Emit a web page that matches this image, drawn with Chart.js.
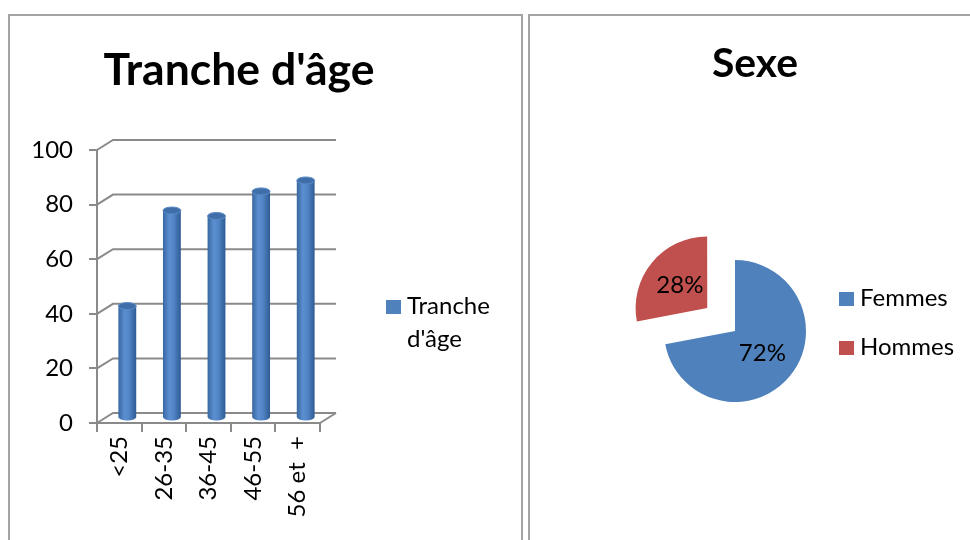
<!DOCTYPE html>
<html lang="fr">
<head>
<meta charset="utf-8">
<title>Tranche d'âge et Sexe</title>
<script src="https://cdn.jsdelivr.net/npm/chart.js@4.4.1/dist/chart.umd.min.js"></script>
<style>
  html, body { margin: 0; padding: 0; background: #fff; }
  body { width: 970px; height: 540px; position: relative; overflow: hidden; }
  .cadre { position: absolute; border: 2px solid #a3a3a3; box-sizing: border-box; }
  #cadre_age { left: 8px; top: 14px; width: 515px; height: 600px; }
  #cadre_sexe { left: 528px; top: 14px; width: 500px; height: 600px; }
  .zone { position: absolute; top: 0; height: 540px; }
  #zone_age { left: 0; width: 525px; }
  #zone_sexe { left: 525px; width: 445px; }
</style>
</head>
<body>
<div class="cadre" id="cadre_age"></div>
<div class="cadre" id="cadre_sexe"></div>
<div class="zone" id="zone_age"><canvas id="tranche_age"></canvas></div>
<div class="zone" id="zone_sexe"><canvas id="sexe"></canvas></div>
<script>
// données
const tranches = ["<25", "26-35", "36-45", "46-55", "56 et  +"];
const effectifs = [41, 76, 74, 83, 87];
const graduations_age = { min: 0, max: 100, pas: 20 };
const sexes = ["Femmes", "Hommes"];
const parts_sexe = [72, 28];
const couleurs_sexe = ["#4f81bd", "#c0504d"];

const GRIS = "#8a8a8a";
const POLICE = "Lato";
const DX = 16, DY = -10; // profondeur du graphique 3D
const ECART_HOMMES = 144;
const FACTEUR_ECART = 1 / 4; // chart.js déplace l'arc de offset/4

// dégradé pour donner l'effet cylindre
function degradeCylindre(context) {
  const chart = context.chart;
  const echelle = chart.scales.x;
  if (!echelle || !chart.chartArea) return "#4f81bd";
  const cx = echelle.getPixelForValue(context.dataIndex);
  const demi = (echelle.width / tranches.length) * 0.4 / 2;
  const g = chart.ctx.createLinearGradient(cx - demi, 0, cx + demi, 0);
  g.addColorStop(0, "#3866a0");
  g.addColorStop(0.35, "#5b8fd0");
  g.addColorStop(0.6, "#5185c6");
  g.addColorStop(1, "#2e5b93");
  return g;
}

const plugin_titre = {
  id: "titreDessine",
  afterDraw: (chart, args, opts) => {
    const ctx = chart.ctx;
    ctx.save();
    ctx.font = "bold 100px " + POLICE;
    const taille = (100 * opts.largeur) / ctx.measureText(opts.texte).width;
    ctx.font = "bold " + taille.toFixed(1) + "px " + POLICE;
    ctx.fillStyle = "#000";
    ctx.textAlign = "center";
    ctx.textBaseline = "alphabetic";
    ctx.fillText(opts.texte, opts.x, opts.y);
    ctx.restore();
  },
};

const plugin_legende = {
  id: "legendeDessinee",
  afterDraw: (chart, args, opts) => {
    const ctx = chart.ctx;
    let items;
    if (chart.config.type === "pie") {
      items = chart.data.labels.map((l, i) => ({
        lignes: [l],
        couleur: chart.data.datasets[0].backgroundColor[i],
      }));
    } else {
      items = chart.data.datasets.map((d) => ({
        lignes: d.label.split(" "),
        couleur: "#4f81bd",
      }));
    }
    ctx.save();
    ctx.font = "24px " + POLICE;
    ctx.textAlign = "left";
    ctx.textBaseline = "alphabetic";
    items.forEach((item, i) => {
      const base = opts.y + i * opts.pas;
      ctx.fillStyle = item.couleur;
      ctx.fillRect(opts.x, base - 14, 15, 14);
      ctx.fillStyle = "#000";
      item.lignes.forEach((ligne, j) => {
        ctx.fillText(ligne, opts.x + 21, base + j * opts.interligne);
      });
    });
    ctx.restore();
  },
};

// murs du fond, décalage des barres et chapeaux des cylindres
const plugin_profondeur = {
  id: "profondeur",
  beforeDraw: (chart) => {
    const { ctx, chartArea } = chart;
    const y = chart.scales.y;
    ctx.save();
    ctx.strokeStyle = GRIS;
    ctx.lineWidth = 2;
    y.ticks.forEach((t) => {
      const py = y.getPixelForValue(t.value);
      ctx.beginPath();
      ctx.moveTo(chartArea.left, py);
      ctx.lineTo(chartArea.left + DX, py + DY);
      ctx.lineTo(chartArea.right + DX, py + DY);
      ctx.stroke();
    });
    const p0 = y.getPixelForValue(0);
    ctx.beginPath();
    ctx.moveTo(chartArea.right, p0);
    ctx.lineTo(chartArea.right + DX, p0 + DY);
    ctx.stroke();
    ctx.restore();
  },
  beforeDatasetsDraw: (chart) => {
    chart.ctx.save();
    chart.ctx.translate(DX / 2, DY / 2);
  },
  afterDatasetsDraw: (chart) => {
    const ctx = chart.ctx;
    chart.getDatasetMeta(0).data.forEach((barre) => {
      const { x, y, base, width } = barre.getProps(["x", "y", "base", "width"], true);
      const rx = width / 2;
      const ry = 3.5;
      ctx.fillStyle = barre.options.backgroundColor;
      ctx.beginPath();
      ctx.ellipse(x, base, rx, ry, 0, 0, Math.PI);
      ctx.fill();
      ctx.fillStyle = "#3f6ea8";
      ctx.beginPath();
      ctx.ellipse(x, y, rx, ry, 0, 0, Math.PI * 2);
      ctx.fill();
      ctx.strokeStyle = "#5a8bc9";
      ctx.lineWidth = 1;
      ctx.stroke();
    });
    ctx.restore();
  },
};

const plugin_pourcentages = {
  id: "pourcentages",
  afterDatasetsDraw: (chart) => {
    const ctx = chart.ctx;
    const valeurs = chart.data.datasets[0].data;
    const total = valeurs.reduce((a, b) => a + b, 0);
    ctx.save();
    ctx.font = "24px " + POLICE;
    ctx.fillStyle = "#000";
    ctx.textAlign = "center";
    ctx.textBaseline = "middle";
    chart.getDatasetMeta(0).data.forEach((arc, i) => {
      const { x, y, outerRadius, startAngle, endAngle } = arc.getProps(
        ["x", "y", "outerRadius", "startAngle", "endAngle"],
        true
      );
      const milieu = (startAngle + endAngle) / 2;
      const r = outerRadius / 2 + (arc.options.offset || 0) * FACTEUR_ECART;
      const texte = Math.round((valeurs[i] / total) * 100) + "%";
      ctx.fillText(texte, x + Math.cos(milieu) * r, y + Math.sin(milieu) * r);
    });
    ctx.restore();
  },
};

const police_axes = { family: POLICE, size: 24 };

const chart_age = new Chart(document.getElementById("tranche_age").getContext("2d"), {
  type: "bar",
  data: {
    labels: tranches,
    datasets: [
      {
        label: "Tranche d'âge",
        data: effectifs,
        backgroundColor: degradeCylindre,
        borderWidth: 0,
        categoryPercentage: 1,
        barPercentage: 0.4,
        clip: false,
      },
    ],
  },
  options: {
    responsive: true,
    maintainAspectRatio: false,
    animation: false,
    layout: { padding: { left: 0, top: 150, right: 205, bottom: 17 } },
    plugins: {
      legend: { display: false },
      tooltip: { enabled: false },
      titreDessine: { texte: "Tranche d'âge", x: 239, y: 85, largeur: 271 },
      legendeDessinee: { x: 386, y: 314, pas: 0, interligne: 33 },
    },
    scales: {
      x: {
        grid: {
          drawOnChartArea: false,
          tickLength: 9,
          color: GRIS,
          lineWidth: 2,
          offset: true,
        },
        border: { display: true, color: GRIS, width: 2 },
        ticks: {
          minRotation: 90,
          maxRotation: 90,
          autoSkip: false,
          padding: 4,
          color: "#000",
          font: police_axes,
        },
        afterFit: (s) => {
          s.height = 100;
        },
      },
      y: {
        min: graduations_age.min,
        max: graduations_age.max,
        grid: {
          drawOnChartArea: false,
          tickLength: 8,
          color: GRIS,
          lineWidth: 2,
        },
        border: { display: true, color: GRIS, width: 2 },
        ticks: {
          stepSize: graduations_age.pas,
          padding: 16,
          color: "#000",
          font: police_axes,
        },
        afterFit: (s) => {
          s.width = 97;
        },
      },
    },
  },
  plugins: [plugin_profondeur, plugin_titre, plugin_legende],
});

const chart_sexe = new Chart(document.getElementById("sexe").getContext("2d"), {
  type: "pie",
  data: {
    labels: sexes,
    datasets: [
      {
        data: parts_sexe,
        backgroundColor: couleurs_sexe,
        borderWidth: 0,
        offset: [0, ECART_HOMMES],
        radius: 71,
      },
    ],
  },
  options: {
    responsive: true,
    maintainAspectRatio: false,
    animation: false,
    layout: { padding: { left: 110, top: 231, right: 135, bottom: 109 } },
    plugins: {
      legend: { display: false },
      tooltip: { enabled: false },
      titreDessine: { texte: "Sexe", x: 230, y: 77, largeur: 86 },
      legendeDessinee: { x: 314, y: 306, pas: 49, interligne: 0 },
    },
  },
  plugins: [plugin_pourcentages, plugin_titre, plugin_legende],
});
</script>
</body>
</html>
